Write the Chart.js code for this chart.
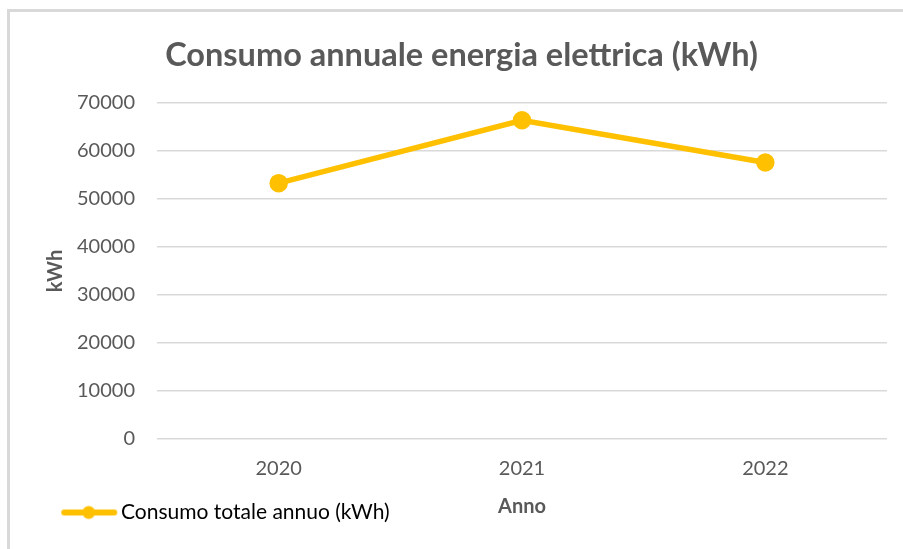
<!DOCTYPE html>
<html>
<head>
<meta charset="utf-8">
<script src="https://cdn.jsdelivr.net/npm/chart.js@4/dist/chart.umd.min.js"></script>
<style>
  html, body { margin: 0; padding: 0; background: #ffffff; overflow: hidden; }
  #wrap { position: relative; width: 903px; height: 549px; }
  #frame { position: absolute; left: 7px; top: 9px; width: 2000px; height: 2000px;
           border: 3px solid #d9d9d9; box-sizing: border-box; }
  canvas { position: absolute; left: 0; top: 0; }
</style>
</head>
<body>
<div id="wrap">
  <div id="frame"></div>
  <canvas id="c" width="903" height="549"></canvas>
</div>
<script>
const categories = ['2020', '2021', '2022'];
const consumo = [53300, 66400, 57600];
const yTickLabels = ['0', '10000', '20000', '30000', '40000', '50000', '60000', '70000'];
const seriesName = 'Consumo totale annuo (kWh)';
const chartTitle = 'Consumo annuale energia elettrica (kWh)';
const xTitle = 'Anno';
const yTitle = 'kWh';

const GREY = '#595959';
const GRID = '#d9d9d9';
const GOLD = '#FFC000';

// legend symbol: line with a circle
function legendSymbol() {
  const cv = document.createElement('canvas');
  cv.width = 80; cv.height = 16;
  const g = cv.getContext('2d');
  g.strokeStyle = GOLD; g.lineWidth = 6; g.lineCap = 'round';
  g.beginPath(); g.moveTo(26, 8); g.lineTo(76, 8); g.stroke();
  g.fillStyle = GOLD;
  g.beginPath(); g.arc(50.5, 8, 6.5, 0, Math.PI * 2); g.fill();
  return cv;
}
const sym = legendSymbol();

new Chart(document.getElementById('c'), {
  type: 'line',
  data: {
    labels: categories,
    datasets: [{
      label: seriesName,
      data: consumo,
      borderColor: GOLD,
      backgroundColor: GOLD,
      borderWidth: 5.5,
      pointRadius: 6.5,
      pointHoverRadius: 6.5,
      pointBackgroundColor: GOLD,
      pointBorderColor: GOLD,
      tension: 0
    }]
  },
  options: {
    responsive: false,
    animation: false,
    devicePixelRatio: 1,
    layout: { padding: { left: 36, right: 16, top: 10, bottom: 16 } },
    plugins: {
      title: {
        display: true,
        text: chartTitle,
        color: GREY,
        font: { family: 'Lato', size: 32.5, weight: 'bold' },
        padding: { top: 26, bottom: 28 }
      },
      legend: {
        display: true,
        position: 'bottom',
        align: 'start',
        labels: {
          color: GREY,
          font: { family: 'Lato', size: 21 },
          usePointStyle: true,
          pointStyleWidth: 64.5,
          padding: 10,
          generateLabels: (chart) => [{
            text: seriesName,
            pointStyle: sym,
            fillStyle: GOLD,
            strokeStyle: GOLD,
            lineWidth: 0,
            datasetIndex: 0,
            hidden: false
          }]
        }
      },
      tooltip: { enabled: false }
    },
    scales: {
      x: {
        offset: true,
        grid: { display: false, drawTicks: false },
        border: { display: false },
        ticks: { color: GREY, font: { family: 'Lato', size: 20 }, padding: 18 },
        title: {
          display: true, text: xTitle, color: GREY,
          font: { family: 'Lato', size: 20, weight: 'bold' },
          padding: { top: 0, bottom: -27 }
        },
        afterFit: (s) => { s.height = 53; }
      },
      y: {
        min: 0, max: 70000,
        ticks: {
          stepSize: 10000, color: GREY, padding: 22,
          font: { family: 'Lato', size: 20 },
          callback: (v, i) => yTickLabels[i]
        },
        grid: { color: GRID, lineWidth: 1.5, drawTicks: false },
        border: { display: false },
        title: {
          display: true, text: yTitle, color: GREY,
          font: { family: 'Lato', size: 20, weight: 'bold' },
          padding: { top: 8, bottom: 0 }
        },
        afterFit: (s) => { s.width = 121; }
      }
    }
  }
});
</script>
</body>
</html>
